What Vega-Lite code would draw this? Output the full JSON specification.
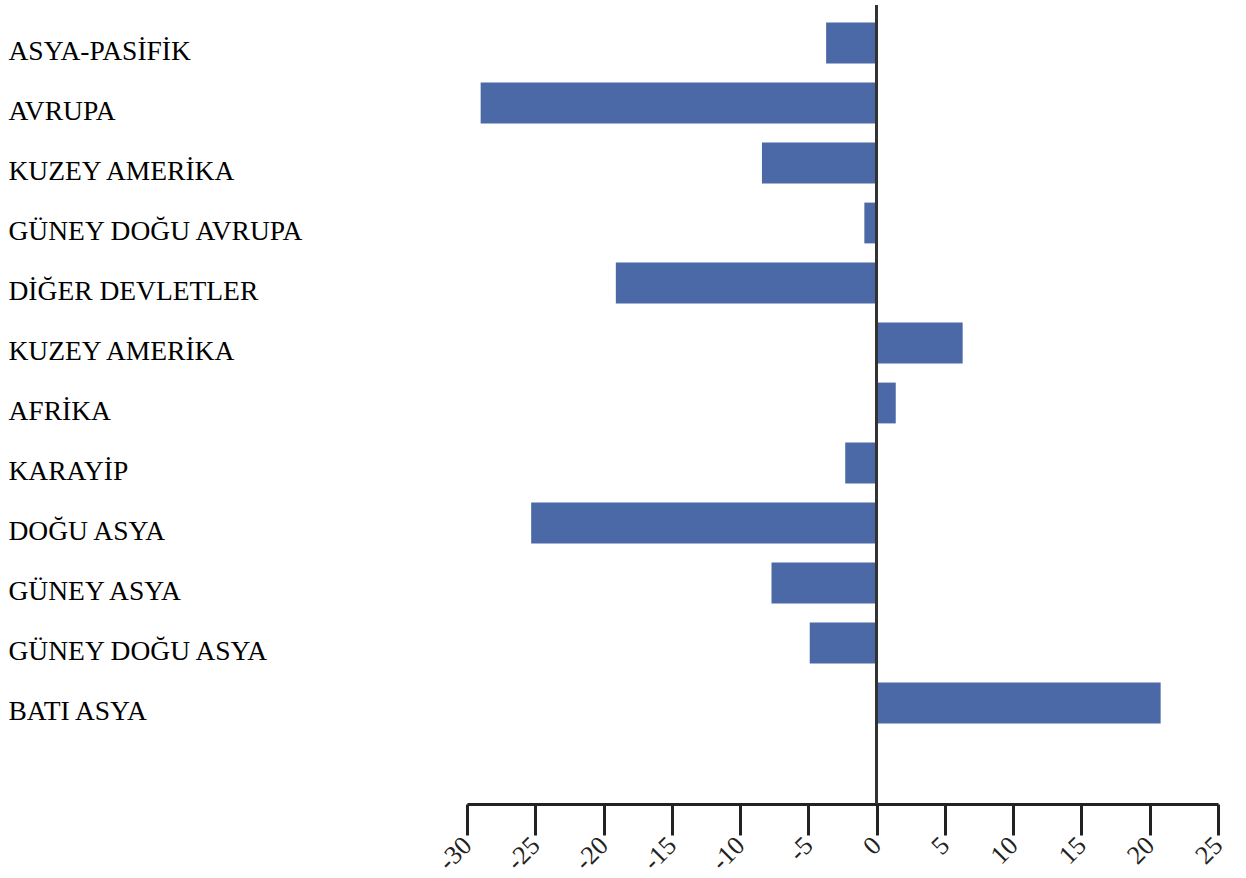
{
  "$schema": "https://vega.github.io/schema/vega-lite/v6.json",
  "autosize": "none",
  "padding": {"left": 467, "top": 5, "right": 28, "bottom": 74},
  "width": 751,
  "height": 799,
  "background": "white",
  "config": {"view": {"stroke": null}},
  "data": {"values": [
    {"bolge": "ASYA-PASİFİK", "deger": -3.7},
    {"bolge": "AVRUPA", "deger": -29.0},
    {"bolge": "KUZEY AMERİKA", "deger": -8.4},
    {"bolge": "GÜNEY DOĞU AVRUPA", "deger": -0.9},
    {"bolge": "DİĞER DEVLETLER", "deger": -19.1},
    {"bolge": "KUZEY AMERİKA ", "deger": 6.3},
    {"bolge": "AFRİKA", "deger": 1.4},
    {"bolge": "KARAYİP", "deger": -2.3},
    {"bolge": "DOĞU ASYA", "deger": -25.3},
    {"bolge": "GÜNEY ASYA", "deger": -7.7},
    {"bolge": "GÜNEY DOĞU ASYA", "deger": -4.9},
    {"bolge": "BATI ASYA", "deger": 20.8}
  ]},
  "layer": [
    {
      "mark": {"type": "bar", "color": "#4b69a7"},
      "encoding": {
        "y": {
          "field": "bolge", "type": "nominal", "sort": null,
          "scale": {"range": [8, 728], "paddingInner": 0.32, "paddingOuter": 0.16},
          "axis": {
            "title": null, "domain": false, "ticks": false,
            "labelAlign": "left", "labelPadding": 459, "labelOffset": 9,
            "labelFont": "Liberation Serif", "labelFontSize": 27.5,
            "labelColor": "#000", "labelBaseline": "middle", "labelLimit": 0
          }
        },
        "x": {
          "field": "deger", "type": "quantitative",
          "scale": {"domain": [-30, 25], "nice": false, "zero": false},
          "axis": {
            "title": null, "grid": false,
            "values": [-30, -25, -20, -15, -10, -5, 0, 5, 10, 15, 20, 25],
            "labelExpr": "'' + datum.value",
            "domainColor": "#222", "domainWidth": 3,
            "tickColor": "#222", "tickWidth": 3, "tickSize": 31,
            "labelAngle": -45, "labelAlign": "right", "labelBaseline": "middle",
            "labelPadding": 6, "labelFont": "Liberation Sans Narrow",
            "labelFontSize": 26, "labelColor": "#222"
          }
        }
      }
    },
    {
      "mark": {"type": "rule", "color": "#333", "strokeWidth": 2},
      "encoding": {"x": {"datum": 0}}
    }
  ]
}
